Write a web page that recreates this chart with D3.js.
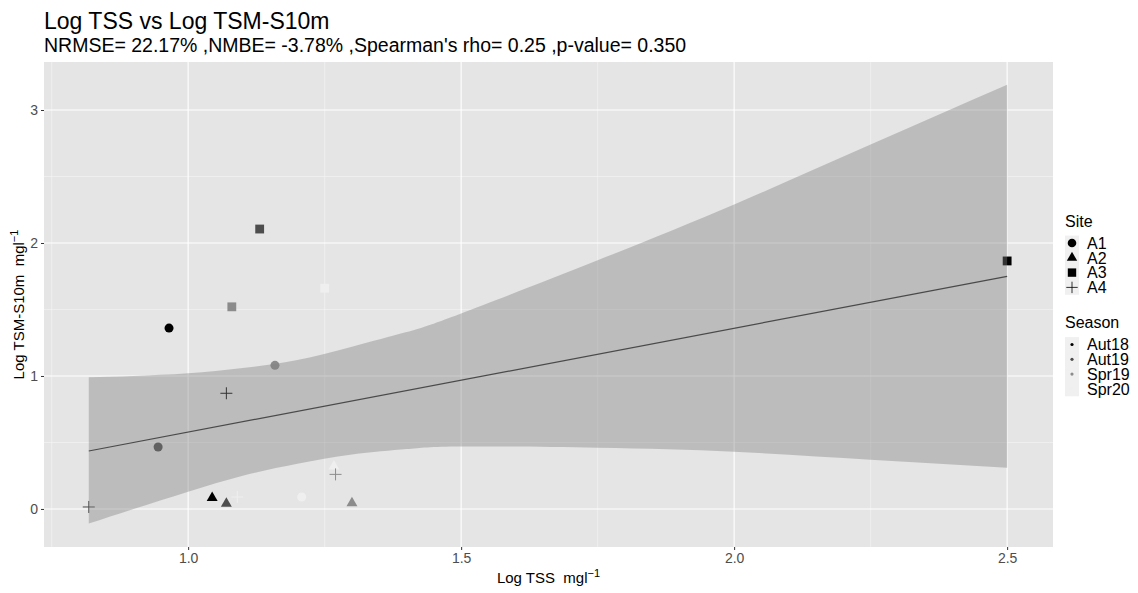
<!DOCTYPE html>
<html>
<head>
<meta charset="utf-8">
<script src="https://cdn.jsdelivr.net/npm/d3@7"></script>
<style>
  body { margin: 0; background: #fff; }
  text { font-family: "Liberation Sans", Arial, sans-serif; }
</style>
</head>
<body>
<div id="chart"></div>
<script>
// values
var sites = ["A1", "A2", "A3", "A4"];
var seasons = ["Aut18", "Aut19", "Spr19", "Spr20"];

var ptSite   = ["A1", "A1", "A1", "A1", "A2", "A2", "A2", "A2",
                "A3", "A3", "A3", "A3", "A4", "A4", "A4", "A4"];
var ptSeason = ["Aut18", "Aut19", "Spr19", "Spr20", "Aut18", "Aut19", "Spr19", "Spr20",
                "Aut18", "Aut19", "Spr19", "Spr20", "Aut18", "Aut19", "Spr19", "Spr20"];
var logTSS   = [0.965, 0.945, 1.159, 1.208, 1.044, 1.070, 1.300, 1.267,
                2.500, 1.131, 1.080, 1.250, 1.070, 0.818, 1.270, 1.090];
var logTSM   = [1.360, 0.466, 1.080, 0.090, 0.083, 0.040, 0.045, 0.320,
                1.865, 2.105, 1.520, 1.660, 0.870, 0.015, 0.260, 0.090];

// lm fit line and its confidence band (geom_smooth)
var fitX = [0.818, 2.5];
var fitY = [0.436, 1.749];
var bandX  = [0.818, 0.9, 1.0, 1.1, 1.2, 1.3, 1.4, 1.5, 1.75, 2.0, 2.25, 2.5];
var bandLo = [-0.11, 0.00, 0.13, 0.25, 0.34, 0.41, 0.45, 0.47, 0.46, 0.43, 0.37, 0.31];
var bandHi = [0.99, 1.00, 1.02, 1.06, 1.12, 1.22, 1.33, 1.47, 1.87, 2.29, 2.74, 3.19];

var xTicks = [1.0, 1.5, 2.0, 2.5];
var xMinor = [0.75, 1.25, 1.75, 2.25];
var yTicks = [0, 1, 2, 3];
var yMinor = [0.5, 1.5, 2.5];

var W = 1138, H = 593;
var panel = {left: 44, right: 1053, top: 62, bottom: 547};

var svg = d3.select("#chart").append("svg")
    .attr("width", W)
    .attr("height", H);

var x = d3.scaleLinear().domain([0.736, 2.584]).range([panel.left, panel.right]);
var y = d3.scaleLinear().domain([-0.286, 3.361]).range([panel.bottom, panel.top]);

var grey = d3.scaleOrdinal().domain(seasons).range(["#000000", "#4d4d4d", "#8c8c8c", "#efefef"]);

function shapePath(site, s) {
  s = s || 1;
  if (site === "A1") return d3.symbol(d3.symbolCircle, 64 * s * s)();
  if (site === "A2") return d3.symbol(d3.symbolTriangle, 52 * s * s)();
  if (site === "A3") return d3.symbol(d3.symbolSquare, 78 * s * s)();
  var a = 6 * s;
  return "M" + (-a) + ",0H" + a + "M0," + (-a) + "V" + a;
}

// titles
svg.append("text")
    .attr("x", 44).attr("y", 29)
    .style("font-size", "23px")
    .text("Log TSS vs Log TSM-S10m");
svg.append("text")
    .attr("x", 44).attr("y", 52)
    .style("font-size", "19.5px")
    .text("NRMSE= 22.17% ,NMBE= -3.78% ,Spearman's rho= 0.25 ,p-value= 0.350");

// panel + grid
var g = svg.append("g");
g.append("rect")
    .attr("x", panel.left).attr("y", panel.top)
    .attr("width", panel.right - panel.left)
    .attr("height", panel.bottom - panel.top)
    .attr("fill", "#e5e5e5");

g.selectAll(".xminor").data(xMinor).enter().append("line")
    .attr("x1", function(d) { return x(d); }).attr("x2", function(d) { return x(d); })
    .attr("y1", panel.top).attr("y2", panel.bottom)
    .attr("stroke", "#f5f5f5").attr("stroke-width", 0.6);
g.selectAll(".yminor").data(yMinor).enter().append("line")
    .attr("y1", function(d) { return y(d); }).attr("y2", function(d) { return y(d); })
    .attr("x1", panel.left).attr("x2", panel.right)
    .attr("stroke", "#f5f5f5").attr("stroke-width", 0.6);
g.selectAll(".xmajor").data(xTicks).enter().append("line")
    .attr("x1", function(d) { return x(d); }).attr("x2", function(d) { return x(d); })
    .attr("y1", panel.top).attr("y2", panel.bottom)
    .attr("stroke", "#ffffff").attr("stroke-width", 1.1);
g.selectAll(".ymajor").data(yTicks).enter().append("line")
    .attr("y1", function(d) { return y(d); }).attr("y2", function(d) { return y(d); })
    .attr("x1", panel.left).attr("x2", panel.right)
    .attr("stroke", "#ffffff").attr("stroke-width", 1.1);

// points (drawn under the smooth, as in the original)
var pts = d3.range(logTSS.length);
g.selectAll(".pt").data(pts).enter().append("path")
    .attr("class", "pt")
    .attr("transform", function(i) { return "translate(" + x(logTSS[i]) + "," + y(logTSM[i]) + ")"; })
    .attr("d", function(i) { return shapePath(ptSite[i]); })
    .attr("fill", function(i) { return ptSite[i] === "A4" ? "none" : grey(ptSeason[i]); })
    .attr("stroke", function(i) { return ptSite[i] === "A4" ? grey(ptSeason[i]) : "none"; })
    .attr("stroke-width", 1);

// confidence band
var band = bandX.map(function(v, i) { return {x: v, lo: bandLo[i], hi: bandHi[i]}; });
g.append("path")
    .datum(band)
    .attr("d", d3.area()
      .curve(d3.curveNatural)
      .x(function(d) { return x(d.x); })
      .y0(function(d) { return y(d.lo); })
      .y1(function(d) { return y(d.hi); }))
    .attr("fill", "#808080")
    .attr("fill-opacity", 0.4);

g.append("path")
    .datum(fitX.map(function(v, i) { return [v, fitY[i]]; }))
    .attr("d", d3.line().x(function(d) { return x(d[0]); }).y(function(d) { return y(d[1]); }))
    .attr("fill", "none")
    .attr("stroke", "#4a4a4a")
    .attr("stroke-width", 1.2);

// axes
var xAxis = svg.append("g")
    .attr("transform", "translate(0," + panel.bottom + ")")
    .call(d3.axisBottom(x).tickValues(xTicks).tickFormat(d3.format(".1f")).tickSize(3).tickPadding(3));
var yAxis = svg.append("g")
    .attr("transform", "translate(" + panel.left + ",0)")
    .call(d3.axisLeft(y).tickValues(yTicks).tickFormat(d3.format("d")).tickSize(3).tickPadding(3));
[xAxis, yAxis].forEach(function(a) {
  a.select(".domain").remove();
  a.selectAll(".tick line").attr("stroke", "#333333");
  a.selectAll(".tick text").attr("fill", "#4d4d4d").style("font-size", "14px")
    .style("font-family", "'Liberation Sans', Arial, sans-serif");
});

// axis titles
var xt = svg.append("text")
    .attr("x", (panel.left + panel.right) / 2).attr("y", 583)
    .attr("text-anchor", "middle")
    .style("font-size", "15px");
xt.append("tspan").text("Log TSS\u00a0\u00a0mgl");
xt.append("tspan").attr("dy", -6).style("font-size", "11px").text("\u22121");

var yt = svg.append("text")
    .attr("transform", "translate(24," + ((panel.top + panel.bottom) / 2) + ") rotate(-90)")
    .attr("text-anchor", "middle")
    .style("font-size", "15px");
yt.append("tspan").text("Log TSM-S10m\u00a0\u00a0mgl");
yt.append("tspan").attr("dy", -6).style("font-size", "11px").text("\u22121");

// ----- LEGEND -----
var lx = 1065;
function legendBlock(title, titleY, keys, rowY, drawKey) {
  svg.append("text").attr("x", lx).attr("y", titleY).style("font-size", "16px").text(title);
  var rowH = 14.8;
  svg.append("rect")
      .attr("x", lx).attr("y", rowY - rowH / 2)
      .attr("width", 14).attr("height", rowH * keys.length)
      .attr("fill", "#f0f0f0");
  var rows = svg.selectAll(null).data(keys).enter().append("g")
      .attr("transform", function(d, i) { return "translate(" + (lx + 7) + "," + (rowY + i * rowH) + ")"; });
  drawKey(rows);
  rows.append("text")
      .attr("x", 15).attr("dy", "0.36em")
      .style("font-size", "16px")
      .text(function(d) { return d; });
}

legendBlock("Site", 227, sites, 243, function(rows) {
  rows.append("path")
      .attr("d", function(d) { return shapePath(d, 0.95); })
      .attr("fill", function(d) { return d === "A4" ? "none" : "#000"; })
      .attr("stroke", function(d) { return d === "A4" ? "#000" : "none"; })
      .attr("stroke-width", 0.8);
});

legendBlock("Season", 328, seasons, 344.5, function(rows) {
  rows.append("circle")
      .attr("r", 1.6)
      .attr("fill", function(d) { return grey(d); });
});
</script>
</body>
</html>
